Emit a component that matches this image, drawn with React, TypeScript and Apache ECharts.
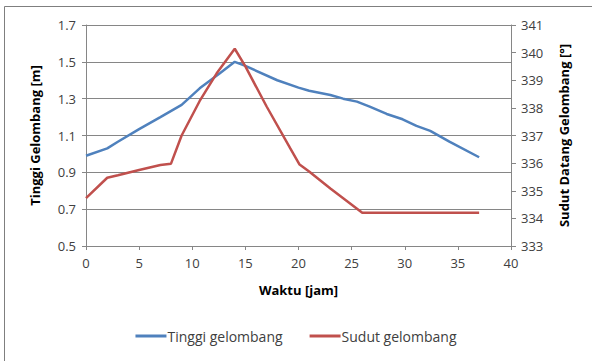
import React, { useEffect, useRef } from "react";
import * as echarts from "echarts";

// Wave height (left axis) and wave direction (right axis) over time in hours
const heightHours = [0, 2, 3, 5, 7, 9, 10.7, 12.6, 14, 15, 18, 20, 21, 23, 24.2, 25.5, 26.7, 28.3, 29.8, 31.1, 32.4, 34.2, 37];
const heightValues = [0.99, 1.03, 1.066, 1.135, 1.2, 1.266, 1.356, 1.438, 1.5, 1.478, 1.4, 1.36, 1.343, 1.32, 1.3, 1.284, 1.257, 1.217, 1.188, 1.152, 1.125, 1.067, 0.982];

const angleHours = [0, 2, 3, 5, 7, 8, 9, 10.7, 12.3, 14, 15, 17, 19.2, 20.1, 21, 23, 26, 27, 30, 33, 37];
const angleValues = [334.73, 335.47, 335.56, 335.75, 335.93, 335.98, 337.0, 338.25, 339.25, 340.14, 339.5, 338.05, 336.55, 335.95, 335.7, 335.08, 334.2, 334.2, 334.2, 334.2, 334.2];

const xTicks = { min: 0, max: 40, interval: 5 };
const leftTicks = { min: 0.5, max: 1.7, interval: 0.2 };
const rightTicks = { min: 333, max: 341, interval: 1 };

const seriesNames = ["Tinggi gelombang", "Sudut gelombang"];

const FONT = "'Open Sans', sans-serif";
const AXIS_GRAY = "#868686";
const TEXT = "#404040";

export default function App() {
  const ref = useRef<HTMLDivElement>(null);

  useEffect(() => {
    document.body.style.margin = "0";
    const chart = echarts.init(ref.current!, null, { renderer: "svg" });
    const labelStyle = { color: TEXT, fontFamily: FONT, fontSize: 13 };
    const nameStyle = { color: "#000", fontFamily: FONT, fontSize: 13, fontWeight: "bold" as const };

    chart.setOption({
      animation: false,
      backgroundColor: "#fff",
      graphic: [
        {
          type: "rect",
          shape: { x: 4.5, y: 6.5, width: 620, height: 420 },
          style: { fill: "none", stroke: "#7f7f7f", lineWidth: 1 },
          silent: true,
        },
      ],
      grid: { left: 86, right: 81, top: 25, bottom: 115 },
      legend: {
        bottom: 13,
        left: "center",
        itemWidth: 31,
        itemHeight: 3,
        itemGap: 27,
        icon: "rect",
        textStyle: { color: TEXT, fontFamily: FONT, fontSize: 14, padding: [0, 0, 0, -4] },
        data: seriesNames,
      },
      xAxis: {
        type: "value",
        ...xTicks,
        name: "Waktu [jam]",
        nameLocation: "middle",
        nameGap: 37,
        nameTextStyle: nameStyle,
        axisLine: { lineStyle: { color: AXIS_GRAY } },
        axisTick: { show: true, length: 4, lineStyle: { color: AXIS_GRAY } },
        axisLabel: { ...labelStyle, margin: 10 },
        splitLine: { show: false },
      },
      yAxis: [
        {
          type: "value",
          ...leftTicks,
          name: "Tinggi Gelombang [m]",
          nameLocation: "middle",
          nameGap: 45,
          nameTextStyle: nameStyle,
          axisLine: { show: true, lineStyle: { color: AXIS_GRAY } },
          axisTick: { show: true, length: 4, lineStyle: { color: AXIS_GRAY } },
          axisLabel: { ...labelStyle, margin: 10, formatter: (v: number) => v.toFixed(1) },
          splitLine: { show: true, lineStyle: { color: AXIS_GRAY, width: 1 } },
        },
        {
          type: "value",
          ...rightTicks,
          position: "right",
          name: "Sudut Datang Gelombang [°]",
          nameLocation: "middle",
          nameGap: 46,
          nameRotate: 90,
          nameTextStyle: nameStyle,
          axisLine: { show: true, lineStyle: { color: AXIS_GRAY } },
          axisTick: { show: true, length: 5, lineStyle: { color: AXIS_GRAY } },
          axisLabel: { ...labelStyle, margin: 10 },
          splitLine: { show: false },
        },
      ],
      series: [
        {
          name: seriesNames[0],
          type: "line",
          yAxisIndex: 0,
          data: heightHours.map((h, i) => [h, heightValues[i]]),
          showSymbol: false,
          lineStyle: { color: "#4F81BD", width: 2.5 },
          itemStyle: { color: "#4F81BD" },
        },
        {
          name: seriesNames[1],
          type: "line",
          yAxisIndex: 1,
          data: angleHours.map((h, i) => [h, angleValues[i]]),
          showSymbol: false,
          lineStyle: { color: "#C0504D", width: 2.5 },
          itemStyle: { color: "#C0504D" },
        },
      ],
    });
    return () => chart.dispose();
  }, []);

  return <div ref={ref} style={{ width: 592, height: 361 }} />;
}
